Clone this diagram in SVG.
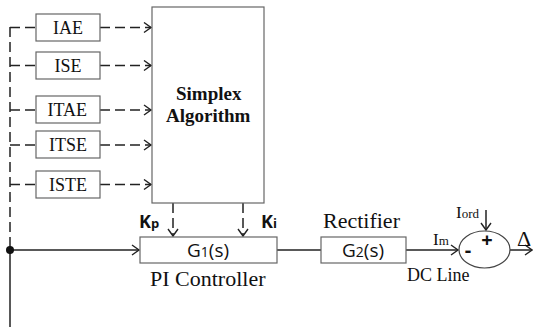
<svg xmlns="http://www.w3.org/2000/svg" width="533" height="327" viewBox="0 0 533 327">
<style>
.box{fill:#fff;stroke:#666;stroke-width:1.2}
.ln{fill:none;stroke:#222;stroke-width:1.5}
.dash{fill:none;stroke:#222;stroke-width:1.5;stroke-dasharray:10 5}
.ser{font-family:"Liberation Serif","Times New Roman","DejaVu Serif",serif;fill:#111}
.san{font-family:"Open Sans","Liberation Sans",sans-serif;fill:#111}
</style>
<defs>
<marker id="ah" markerWidth="10" markerHeight="12" refX="8" refY="6" orient="auto" markerUnits="userSpaceOnUse">
<path d="M1,1 L8,6 L1,11" fill="none" stroke="#222" stroke-width="1.4"/>
</marker>
</defs>
<rect width="533" height="327" fill="#fff"/>
<g id="connectors">
<path class="dash" d="M10,27 V250"/>
<path class="dash" d="M10,27.5 H36"/>
<path class="dash" d="M10,65.5 H36"/>
<path class="dash" d="M10,110 H36"/>
<path class="dash" d="M10,145 H36"/>
<path class="dash" d="M10,184.5 H36"/>
<path class="dash" d="M100,27.5 H151" marker-end="url(#ah)"/>
<path class="dash" d="M100,65.5 H151" marker-end="url(#ah)"/>
<path class="dash" d="M100,110 H151" marker-end="url(#ah)"/>
<path class="dash" d="M100,145 H151" marker-end="url(#ah)"/>
<path class="dash" d="M100,184.5 H151" marker-end="url(#ah)"/>
<path class="dash" d="M173,203 V236" marker-end="url(#ah)"/>
<path class="dash" d="M243,203 V236" marker-end="url(#ah)"/>
<path class="ln" d="M10,250 V327"/>
<path class="ln" d="M10,250 H139" marker-end="url(#ah)"/>
<path class="ln" d="M277,250 H321"/>
<path class="ln" d="M406,250 H458" marker-end="url(#ah)"/>
<path class="ln" d="M486,210 V230" marker-end="url(#ah)"/>
<path class="ln" d="M510,250 H532" marker-end="url(#ah)"/>
<circle cx="10" cy="250" r="4" fill="#111"/>
</g>
<g id="IAE"><rect class="box" x="36" y="14" width="64" height="27"/><text class="ser" x="53" y="34" font-size="18">IAE</text></g>
<g id="ISE"><rect class="box" x="36" y="52" width="64" height="27"/><text class="ser" x="54.5" y="72" font-size="18">ISE</text></g>
<g id="ITAE"><rect class="box" x="36" y="96" width="64" height="27"/><text class="ser" x="47.5" y="116" font-size="18">ITAE</text></g>
<g id="ITSE"><rect class="box" x="36" y="131" width="64" height="27"/><text class="ser" x="49" y="151" font-size="18">ITSE</text></g>
<g id="ISTE"><rect class="box" x="36" y="171" width="64" height="27"/><text class="ser" x="49" y="191" font-size="18">ISTE</text></g>
<g id="simplex"><rect class="box" x="152" y="7" width="112" height="196"/>
<text class="ser" x="176" y="100" font-size="19" font-weight="bold">Simplex</text>
<text class="ser" x="166" y="122" font-size="19" font-weight="bold">Algorithm</text></g>
<g id="kp"><text class="san" x="139" y="228" font-size="18" font-weight="bold">K<tspan font-size="13">p</tspan></text></g>
<g id="ki"><text class="san" x="261" y="228" font-size="18" font-weight="bold">K<tspan font-size="13">i</tspan></text></g>
<g id="G1"><rect class="box" x="140" y="237" width="137" height="26"/>
<text class="san" x="208" y="257" font-size="19" text-anchor="middle">G<tspan font-size="14">1</tspan>(s)</text>
<text class="ser" x="150" y="286" font-size="22">PI Controller</text></g>
<g id="G2"><rect class="box" x="321" y="237" width="85" height="26"/>
<text class="san" x="363" y="257" font-size="19" text-anchor="middle">G<tspan font-size="14">2</tspan>(s)</text>
<text class="ser" x="323" y="228" font-size="22">Rectifier</text></g>
<g id="dcline"><text class="ser" x="407" y="281" font-size="18">DC Line</text>
<text class="ser" x="433" y="245" font-size="17">I<tspan font-size="13">m</tspan></text></g>
<g id="sum"><ellipse cx="484.5" cy="249.5" rx="25.5" ry="18.5" fill="#fff" stroke="#444" stroke-width="1.2"/>
<text class="san" x="468" y="257" font-size="20" font-weight="bold" text-anchor="middle">-</text>
<text class="san" x="487" y="247" font-size="20" font-weight="bold" text-anchor="middle">+</text>
<text class="ser" x="456" y="218" font-size="17">I<tspan font-size="13">ord</tspan></text></g>
<g id="out"><text class="ser" x="517" y="246" font-size="22">Δ</text></g>
</svg>
